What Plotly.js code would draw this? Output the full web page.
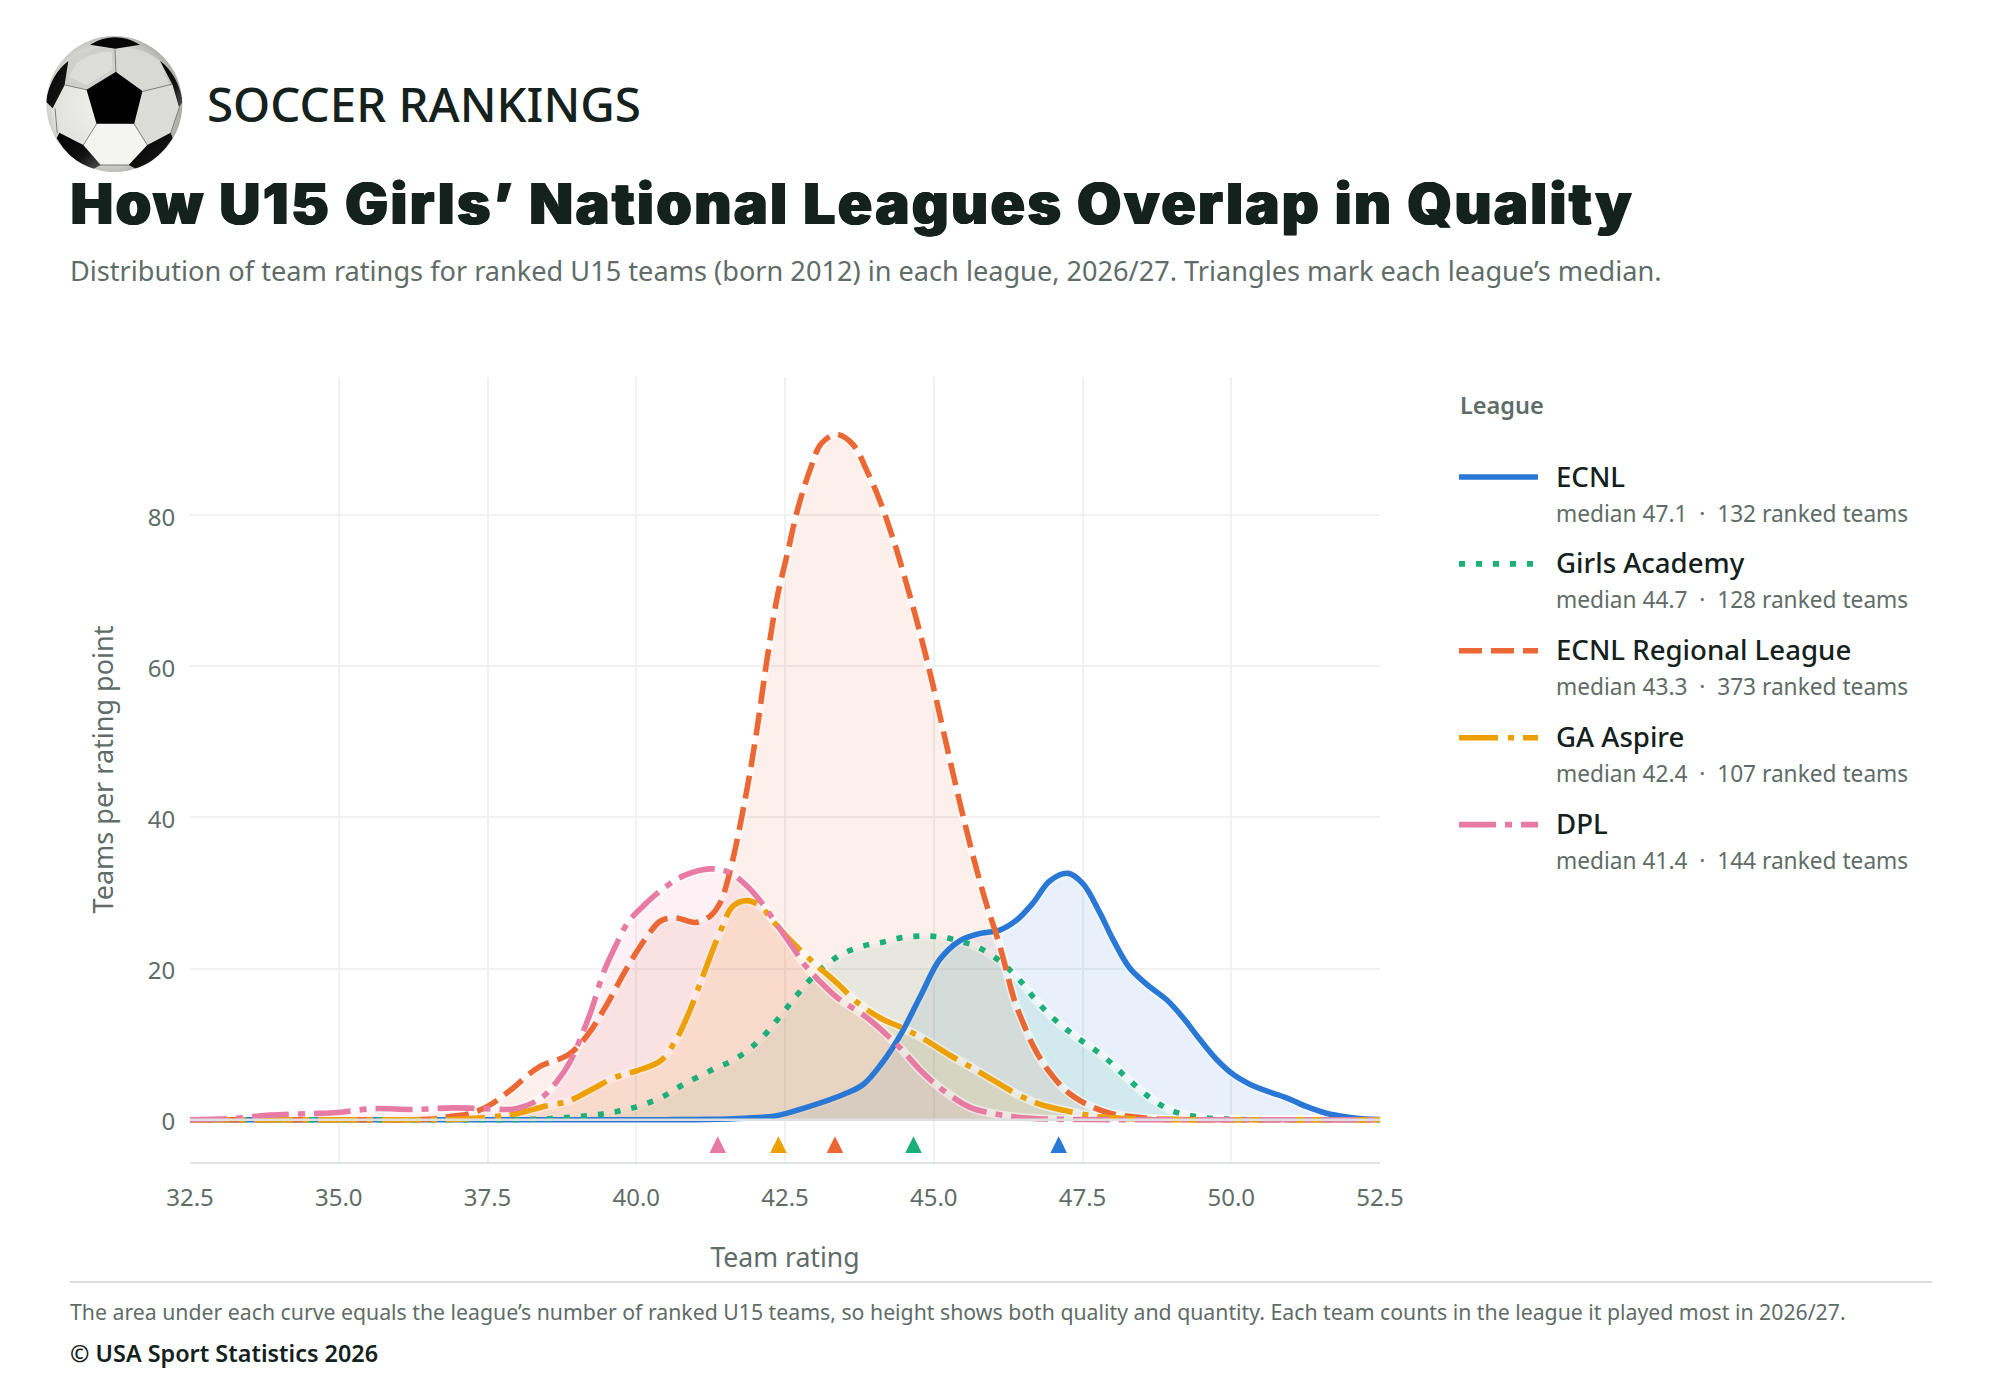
<!DOCTYPE html>
<html><head><meta charset="utf-8">
<script src="https://cdn.plot.ly/plotly-3.0.1.min.js"></script>
<style>html,body{margin:0;padding:0;background:#fff}#chart{width:2000px;height:1400px}
.gtitle{letter-spacing:2.4px}</style>
</head><body><div id="chart"></div>
<script>
// ---------- data ----------
const leagues = ["ECNL","Girls Academy","ECNL Regional League","GA Aspire","DPL"];
const medians = [47.1,44.66,43.34,42.39,41.37];
const teamCounts = [132,128,373,107,144];
const ratingTicks = [32.5,35,37.5,40,42.5,45,47.5,50,52.5];
const densityTicks = [0,20,40,60,80];

const ecnlX = [32.5,34,35.5,37,38.5,39.5,40.5,41.2,41.83,42.34,42.85,43.5,43.82,44.14,44.46,44.78,45.1,45.43,45.75,46.11,46.39,46.67,46.95,47.26,47.51,47.79,48.01,48.29,48.58,48.91,49.19,49.47,49.75,50.03,50.31,50.59,50.93,51.26,51.6,51.94,52.2,52.5];
const ecnlY = [0,0,0,0,0,0,0,0.04,0.2,0.5,1.6,3.4,4.7,7.6,11.5,16.4,21.2,23.65,24.6,25.1,26.4,28.7,31.6,32.6,31.2,27.4,23.9,20.1,17.9,15.9,13.5,10.65,8,6,4.7,3.8,2.9,1.75,0.85,0.35,0.12,0.03];

const gaX = [32.5,34,35.5,37,38,38.5,39.0,39.51,39.96,40.41,40.8,41.25,41.7,42.08,42.4,42.69,42.98,43.24,43.5,43.82,44.14,44.46,44.78,45.1,45.43,45.75,46.11,46.45,46.75,47.09,47.45,47.85,48.21,48.57,48.97,49.42,49.92,50.5,51.5,52.5];
const gaY = [0,0,0,0,0.02,0.12,0.4,0.85,1.6,2.9,4.7,6.5,8.2,10.6,13.5,16.4,19,20.8,22.1,23,23.5,24.1,24.3,24.2,23.65,22.8,21,18.4,15.5,12.85,10.65,8.4,5.8,3.3,1.3,0.4,0.08,0,0,0];

const rlX = [32.5,34,35.5,36.5,36.85,37.23,37.53,37.9,38.35,38.87,39.19,39.51,39.83,40.15,40.41,40.67,40.99,41.25,41.41,41.57,41.83,42.02,42.19,42.36,42.53,42.72,42.92,43.11,43.37,43.65,43.87,44.09,44.32,44.54,44.77,44.99,45.22,45.44,45.66,45.86,46.11,46.36,46.5,46.67,46.89,47.23,47.57,47.96,48.35,48.74,49.5,51,52.5];
const rlY = [0,0,0,0.05,0.4,0.86,1.9,4.0,6.9,8.66,11.3,15.3,19.9,23.9,26.3,26.7,26.1,27,28.7,32.7,42.4,51.2,60.5,68.8,74.6,81,86,89.5,90.7,89.3,86,82,76.8,71,64.4,57.4,49.4,41.9,34.9,29.2,23,15.7,12.85,9.8,6.9,3.8,2.05,0.86,0.38,0.1,0,0,0];

const asX = [32.5,34,35.5,36.5,37.0,37.6,37.98,38.48,38.87,39.25,39.64,40.02,40.41,40.67,40.86,41.12,41.38,41.63,41.86,42.08,42.34,42.66,42.98,43.37,43.75,44.14,44.46,44.85,45.3,45.68,46.11,46.39,46.78,47.23,47.68,48.13,48.57,49.5,51,52.5];
const asY = [0,0,0,0,0.05,0.4,0.8,1.8,2.5,4,5.6,6.5,7.8,10.6,13.7,19,24.3,28.3,29,28.3,25.9,23.2,20.8,18.1,15.3,13.3,12.2,10.6,8.4,6.7,4.7,3.4,2.05,1.17,0.5,0.2,0.08,0,0,0];

const dplX = [32.5,33.2,33.85,34.5,34.98,35.58,36.25,36.93,37.45,37.98,38.39,38.65,38.88,39.1,39.25,39.45,39.64,39.86,40.12,40.44,40.8,41.25,41.57,41.89,42.11,42.34,42.63,42.85,43.05,43.37,43.88,44.4,44.78,45.14,45.62,46.11,46.45,46.84,47.5,49,50.5,52.5];
const dplY = [0,0.15,0.6,0.8,0.95,1.46,1.35,1.57,1.46,1.46,2.8,4.9,7.56,11.5,14.6,19.5,22.8,26.1,28.3,30.5,32.3,33.2,32.7,30.7,28.7,26.1,22.8,20.3,18.6,16.2,13.5,9.8,6.5,4.0,1.6,0.64,0.29,0.1,0.02,0,0,0];

const seriesX = [ecnlX,gaX,rlX,asX,dplX];
const seriesY = [ecnlY,gaY,rlY,asY,dplY];
const colors = ["#2a78d6","#1baf7a","#eb6834","#eda100","#e87ba4"];
const fills = ["rgba(42,120,214,0.105)","rgba(27,175,122,0.105)","rgba(235,104,52,0.105)","rgba(237,161,0,0.105)","rgba(232,123,164,0.105)"];
const dashes = ["solid","6px,11px","23px,9px","39px,10px,6px,9px","37px,9px,7px,9px"];

const brandText = "SOCCER RANKINGS";
const titleText = "How U15 Girls\u2019 National Leagues Overlap in Quality";
const subtitleText = "Distribution of team ratings for ranked U15 teams (born 2012) in each league, 2026/27. Triangles mark each league\u2019s median.";
const legendTitle = "League";
const xTitle = "Team rating";
const yTitle = "Teams per rating point";
const footNote = "The area under each curve equals the league\u2019s number of ranked U15 teams, so height shows both quality and quantity. Each team counts in the league it played most in 2026/27.";
const copyright = "\u00A9 USA Sport Statistics 2026";

// ---------- styling ----------
const FONT = "'Noto Sans', Lato, sans-serif";
const HEAVY = "Inter, 'Noto Sans', sans-serif";
const INK = "#14211c", MUTED = "#5f6c68";
const L=190,R=1380,T=377,B=1162;
const px = v => (v-L)/(R-L), py = v => (B-v)/(B-T);

// soccer ball drawn as a small vector image
const ballSvg = `<svg xmlns="http://www.w3.org/2000/svg" width="450" height="450" viewBox="0 0 450 450">
<defs><radialGradient id="g" cx="45%" cy="50%" r="55%"><stop offset="0" stop-color="#f2f2f0"/><stop offset=".72" stop-color="#e2e2df"/><stop offset="1" stop-color="#a9a9a6"/></radialGradient>
<linearGradient id="k" x1="0" y1="0" x2="1" y2="1"><stop offset="0" stop-color="#000"/><stop offset=".6" stop-color="#111"/><stop offset="1" stop-color="#555"/></linearGradient>
<clipPath id="c"><circle cx="223" cy="222" r="204"/></clipPath></defs>
<circle cx="223" cy="222" r="204" fill="url(#g)"/>
<g clip-path="url(#c)">
<path d="M85 92 Q148 40 225 58 L228 128 L143 178 L75 165 Z" fill="#cfcfcc"/>
<path d="M225 58 Q300 45 360 92 L395 180 L305 182 L228 128 Z" fill="#d8d8d5"/>
<path d="M305 185 L398 165 L418 232 L392 310 L322 345 L280 278 Z" fill="#dcdcd9"/>
<path d="M110 100 Q160 62 215 66 L218 118 L140 165 Q105 150 88 140 Z" fill="#fff" opacity=".3"/>
<path d="M165 282 L278 282 L322 345 L268 405 L180 405 L130 345 Z" fill="#f4f4f2"/>
<g fill="none" stroke="#7d7d7b" stroke-width="3">
<path d="M225 58 L228 130 M75 165 L143 180 M305 185 L398 162 M172 278 L130 345 M280 278 L322 345 M45 235 L52 310 M418 232 L392 310 M180 405 L268 405"/>
</g>
<path d="M228 128 L305 184 L281 279 L171 279 L142 180 Z" fill="#000" stroke="#000" stroke-width="4" stroke-linejoin="round"/>
<path d="M150 44 Q225 0 300 44 L226 56 Z" fill="#070707"/>
<path d="M85 93 Q30 135 18 215 L38 235 L74 165 Z" fill="url(#k)"/>
<path d="M360 92 Q415 135 428 215 L417 232 L398 165 Z" fill="url(#k)"/>
<path d="M58 308 L130 345 L182 405 L150 422 Q85 385 50 325 Z" fill="url(#k)"/>
<path d="M392 308 L322 345 L266 405 L295 420 Q360 385 398 325 Z" fill="url(#k)"/>
</g></svg>`;

// ---------- traces ----------
const traces = [];
// fills with a pale casing along each curve first, so the lines sit above all of them
leagues.forEach((name,i)=>traces.push({
  type:"scatter",mode:"lines",x:seriesX[i],y:seriesY[i],name:name+" area",
  fill:"tozeroy",fillcolor:fills[i],
  line:{color:"rgba(255,255,255,0.5)",width:9,shape:"spline",smoothing:1},
  hoverinfo:"skip",showlegend:false
}));
leagues.forEach((name,i)=>traces.push({
  type:"scatter",mode:"lines",x:seriesX[i],y:seriesY[i],name:name,
  line:{color:colors[i],width:5.6,dash:dashes[i],shape:"spline",smoothing:1},
  showlegend:false
}));
traces.push({
  type:"scatter",mode:"markers",x:medians,y:medians.map(()=>-3.3),name:"Median",
  marker:{symbol:"triangle-up",size:9,color:colors},
  text:leagues,hovertemplate:"%{text}: median %{x}<extra></extra>",showlegend:false
});

// ---------- shapes ----------
const shapes = [];
// light baseline rule on top of the curves
shapes.push({type:"line",xref:"x",yref:"y",x0:32.5,x1:52.5,y0:0,y1:0,layer:"above",line:{color:"#dde0e0",width:2.5}});
// footer rule
shapes.push({type:"line",xref:"paper",yref:"paper",x0:px(70),x1:px(1932),y0:py(1282),y1:py(1282),line:{color:"#d9dedc",width:2}});
// median triangles, fixed pixel size anchored on the median value
medians.forEach((m,i)=>shapes.push({type:"path",xref:"x",yref:"y",xsizemode:"pixel",ysizemode:"pixel",
  xanchor:m,yanchor:-3.3,path:"M-8.3,-8.3 L8.3,-8.3 L0,8.4 Z",fillcolor:colors[i],line:{width:0},layer:"above"}));
// legend keys
leagues.forEach((n,i)=>shapes.push({type:"line",xref:"paper",yref:"paper",
  x0:px(1459),x1:px(1538),y0:py(477+86.9*i),y1:py(477+86.9*i),line:{color:colors[i],width:5.6,dash:dashes[i]}}));

// ---------- text ----------
const annotations = [];
const put = (text,x,y,size,color,weight,extra) => annotations.push(Object.assign({
  text,xref:"paper",yref:"paper",x:px(x),y:py(y),xanchor:"left",yanchor:"middle",showarrow:false,
  borderpad:0,font:{family:FONT,size,color,weight:weight||400}},extra||{}));
put(brandText,206,103,47.5,INK,500);
put(subtitleText,69,270,27.15,MUTED,400);
put(legendTitle,1459,405,23.5,MUTED,600);
leagues.forEach((n,i)=>{
  put(n,1555,475.5+86.9*i,27.6,INK,500);
  put(`median ${medians[i].toFixed(1)} \u00A0\u00B7\u00A0 ${teamCounts[i]} ranked teams`,1555,513+86.9*i,22.7,MUTED,400);
});
put(footNote,69,1311,21.25,MUTED,400);
put(copyright,69,1353,23.4,INK,600);

const layout = {
  width:2000,height:1400,paper_bgcolor:"#fff",plot_bgcolor:"#fff",
  margin:{l:L,r:2000-R,t:T,b:1400-B,pad:0},showlegend:false,
  title:{text:titleText,x:70.5/2000,xanchor:"left",xref:"container",y:1-204/1400,yref:"container",yanchor:"middle",
    font:{family:HEAVY,size:57,color:INK,weight:900,shadow:"0.8px 0 0 #14211c, -0.8px 0 0 #14211c"}},
  font:{family:FONT,color:MUTED},
  xaxis:{range:[32.5,52.5],tickvals:ratingTicks,ticktext:ratingTicks.map(v=>v.toFixed(1)),
    showgrid:true,gridcolor:"#f0f1f2",gridwidth:2.4,zeroline:false,
    showline:true,linecolor:"#dfe3e2",linewidth:2,ticks:"outside",ticklen:13,tickcolor:"rgba(0,0,0,0)",
    tickfont:{family:FONT,size:24,color:MUTED},
    title:{text:xTitle,standoff:37,font:{family:FONT,size:26.6,color:MUTED}}},
  yaxis:{range:[-5.6,98.3],tickvals:densityTicks,showgrid:true,gridcolor:"#f0f1f2",gridwidth:2.4,zeroline:false,
    showline:false,ticks:"outside",ticklen:9,tickcolor:"rgba(0,0,0,0)",ticklabelshift:2,
    tickfont:{family:FONT,size:24,color:MUTED},
    title:{text:yTitle,standoff:26,font:{family:FONT,size:27,color:MUTED}}},
  shapes,annotations,
  images:[{source:"data:image/svg+xml;charset=utf-8,"+encodeURIComponent(ballSvg),xref:"paper",yref:"paper",
    x:px(40),y:py(30),sizex:150/(R-L),sizey:150/(B-T),xanchor:"left",yanchor:"top",sizing:"stretch",layer:"above"}]
};
Plotly.newPlot("chart",traces,layout,{displayModeBar:false,responsive:false});
</script></body></html>
